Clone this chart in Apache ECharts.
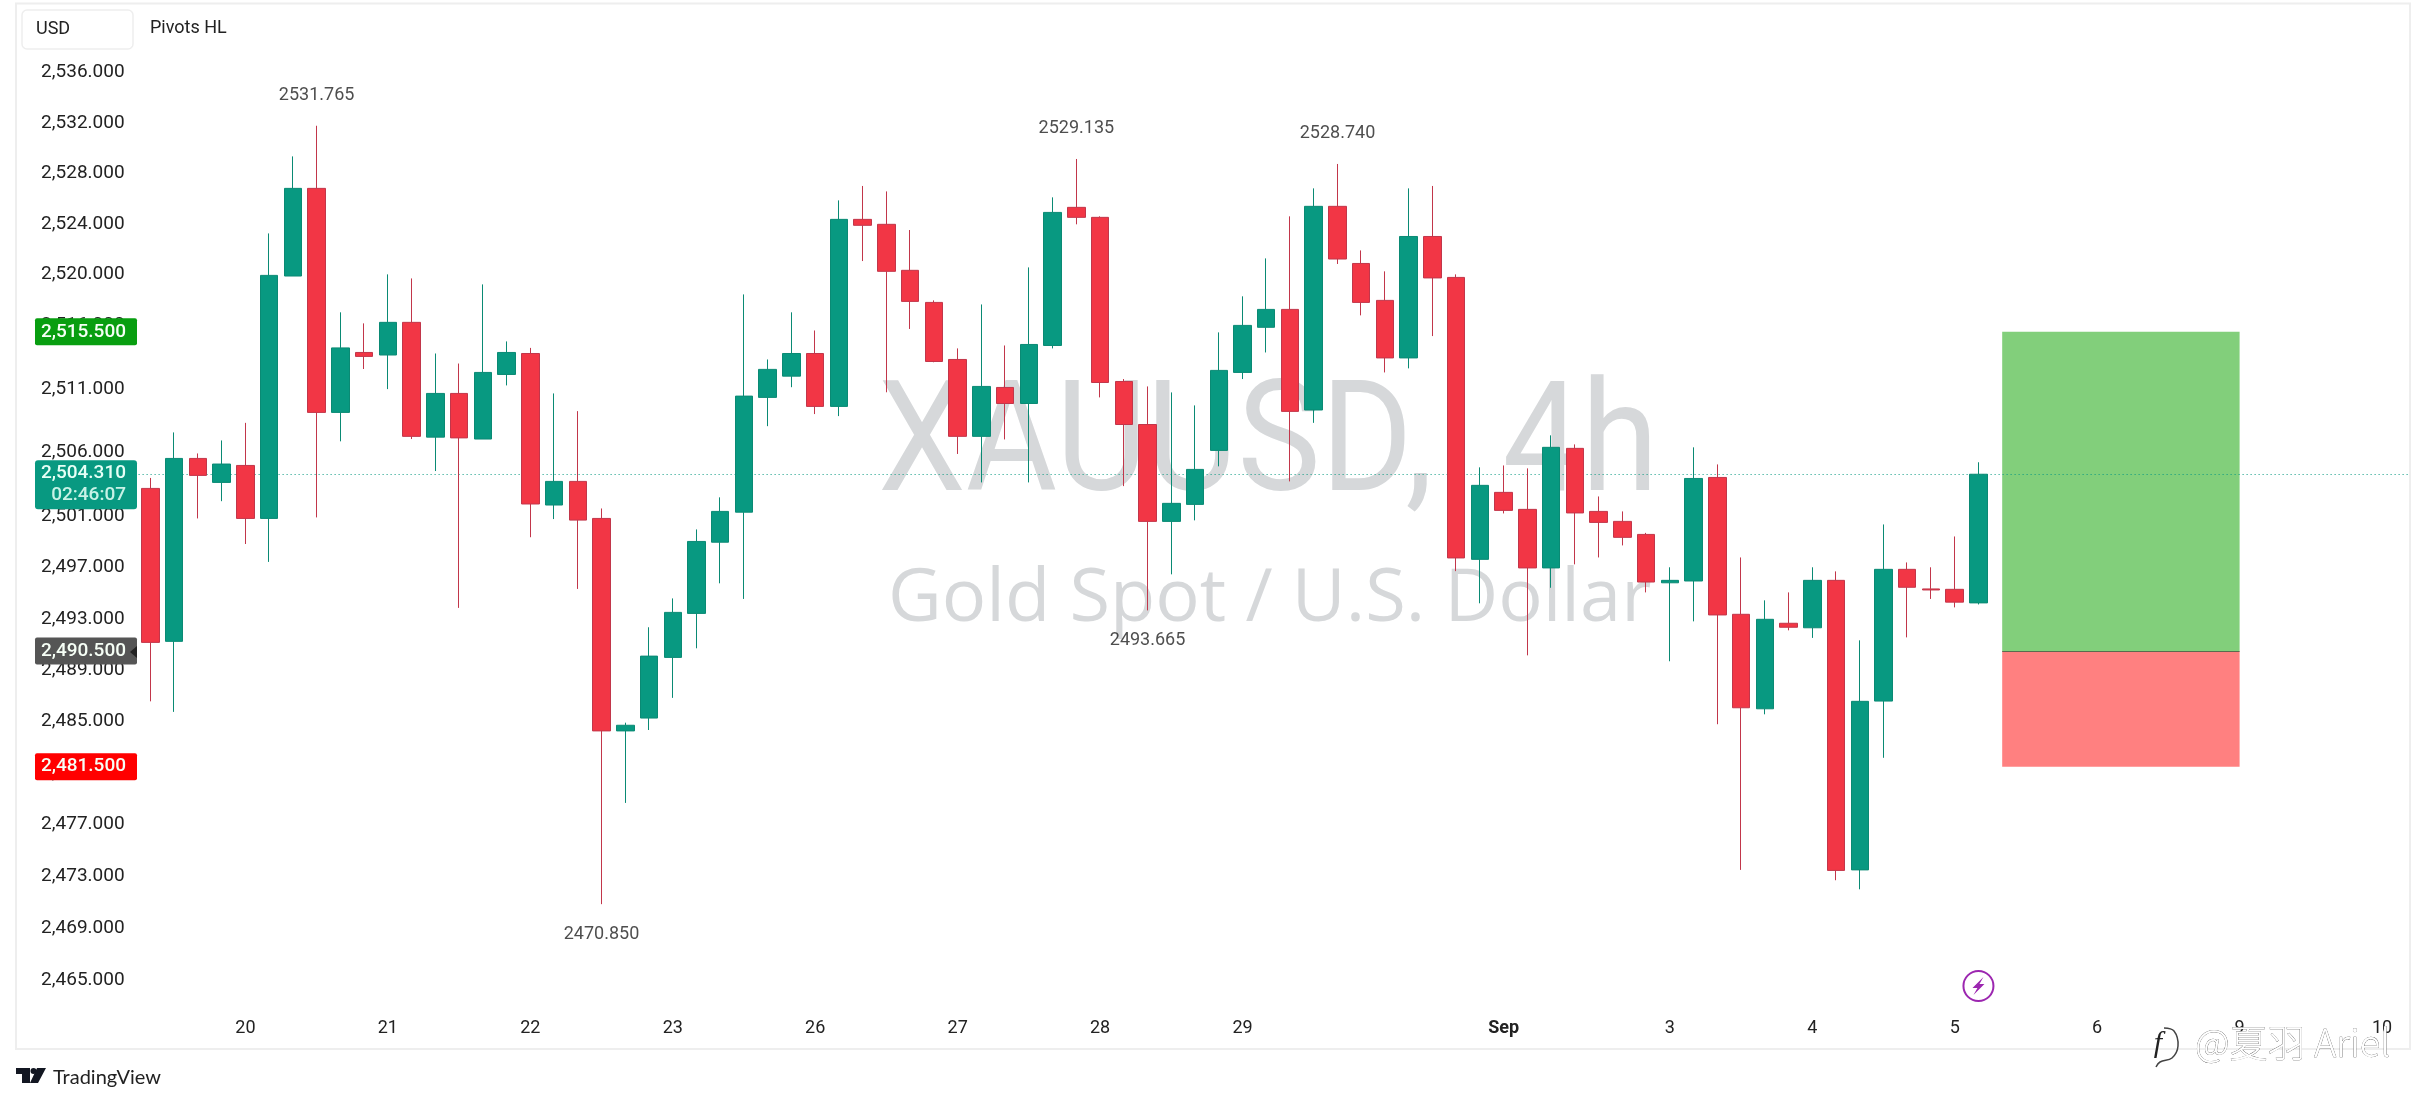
<!DOCTYPE html>
<html>
<head>
  <meta charset="utf-8">
  <title>XAUUSD 4h</title>
  <script src="https://cdn.jsdelivr.net/npm/echarts@6/dist/echarts.min.js"></script>
  <style>
    html, body { margin: 0; padding: 0; background: #fff; }
    #main { width: 2426px; height: 1104px; }
  </style>
</head>
<body>
<div id="main"></div>
<script type="text/javascript">
// candles
var opens = [2503.20,2491.25,2505.55,2503.67,2505.00,2500.85,2519.89,2526.81,2509.16,2513.87,2513.67,2516.24,2507.22,2510.65,2507.07,2512.14,2513.79,2501.90,2503.75,2500.85,2484.28,2485.28,2490.00,2493.43,2498.99,2501.34,2510.34,2512.01,2513.79,2509.63,2524.36,2523.97,2520.34,2517.81,2513.32,2507.28,2511.12,2509.86,2514.42,2525.31,2524.52,2511.59,2508.21,2500.62,2501.95,2506.18,2512.30,2515.85,2517.26,2509.35,2525.39,2520.88,2517.97,2513.44,2523.01,2519.78,2497.65,2502.89,2501.56,2496.98,2506.34,2501.40,2500.62,2499.60,2495.82,2495.96,2504.06,2493.36,2486.00,2492.66,2492.31,2496.01,2473.50,2486.60,2496.87,2495.34,2495.31,2494.25];
var closes = [2491.17,2505.55,2504.22,2505.11,2500.85,2519.94,2526.81,2509.16,2514.23,2513.56,2516.24,2507.28,2510.65,2507.16,2512.30,2513.87,2501.98,2503.75,2500.72,2484.28,2484.72,2490.10,2493.51,2499.05,2501.40,2510.44,2512.54,2513.79,2509.63,2524.36,2523.89,2520.26,2517.89,2513.16,2507.28,2511.20,2509.86,2514.50,2524.91,2524.52,2511.51,2508.21,2500.62,2502.03,2504.69,2512.46,2516.00,2517.26,2509.24,2525.39,2521.23,2517.81,2513.44,2523.01,2519.74,2497.76,2503.44,2501.48,2496.98,2506.42,2501.28,2500.54,2499.37,2495.88,2496.01,2503.98,2493.31,2486.08,2492.97,2492.35,2496.01,2473.46,2486.58,2496.87,2495.47,2495.26,2494.31,2504.31];
var lows = [2486.58,2485.76,2500.85,2502.20,2498.85,2497.45,2519.89,2500.93,2506.89,2512.57,2510.99,2507.07,2504.56,2493.86,2507.07,2511.28,2499.38,2500.80,2495.34,2470.85,2478.69,2484.35,2486.85,2490.71,2495.78,2494.56,2508.08,2511.14,2509.03,2508.87,2521.07,2510.74,2515.72,2513.10,2505.90,2503.67,2507.04,2503.67,2514.19,2523.97,2510.34,2503.38,2493.665,2496.48,2500.70,2504.93,2511.78,2513.87,2503.75,2508.34,2520.84,2516.79,2512.30,2512.62,2515.16,2496.73,2494.22,2501.24,2490.16,2495.43,2497.26,2497.80,2498.74,2495.07,2489.70,2492.81,2484.80,2473.50,2485.57,2492.11,2491.52,2472.70,2472.00,2482.19,2491.56,2494.56,2493.90,2494.13];
var highs = [2504.02,2507.59,2505.94,2506.96,2508.34,2523.25,2529.34,2531.765,2517.03,2516.16,2520.02,2519.70,2513.79,2513.00,2519.23,2514.74,2514.23,2510.65,2509.26,2501.63,2484.92,2492.35,2494.60,2499.99,2502.50,2518.44,2513.32,2517.03,2515.60,2525.86,2527.00,2526.57,2523.52,2517.97,2514.19,2517.65,2514.42,2520.57,2526.10,2529.135,2524.60,2511.78,2511.20,2510.73,2509.71,2515.45,2518.29,2521.28,2524.60,2526.81,2528.74,2521.91,2520.26,2526.81,2527.00,2520.02,2504.85,2505.00,2504.77,2507.36,2506.65,2502.57,2501.40,2499.72,2497.03,2506.42,2505.08,2497.80,2494.45,2495.07,2497.03,2496.71,2491.33,2500.38,2497.41,2497.03,2499.44,2505.25];

// axis labels
var yTicks = [2536,2532,2528,2524,2520,2516,2511,2506,2501,2497,2493,2489,2485,2481,2477,2473,2469,2465];
var dayIndex = [4,10,16,22,28,34,40,46,57,64,70,76,82,88,94];
var dayLabels = ['20','21','22','23','26','27','28','29','Sep','3','4','5','6','9','10'];
var barCount = 96;

// pivots HL
var pivotIndex = [7,39,50,19,42];
var pivotValues = [2531.765,2529.135,2528.740,2470.850,2493.665];
var pivotAbove = [true,true,true,false,false];

// position tool and last price
var lastPrice = 2504.31;
var lastCountdown = '02:46:07';
var targetPrice = 2515.5;
var entryPrice = 2490.5;
var stopPrice = 2481.5;
var boxFrom = 78;
var boxTo = 88;

var UP = '#089981', DOWN = '#F23645', INK = '#222';

var categories = [];
for (var i = 0; i < barCount; i++) {
    var k = dayIndex.indexOf(i);
    categories.push(k >= 0 ? dayLabels[k] : '');
}
var candleData = opens.map(function (o, i) {
    return [o, closes[i], lows[i], highs[i]];
});
var pivotData = pivotIndex.map(function (x, i) {
    return {
        value: [x, pivotValues[i]],
        label: { position: pivotAbove[i] ? 'top' : 'bottom' }
    };
});

function money(v) {
    return v.toLocaleString('en-US', { minimumFractionDigits: 3, maximumFractionDigits: 3 });
}

var myChart = echarts.init(document.getElementById('main'));
myChart.setOption({
    animation: false,
    backgroundColor: '#fff',
    grid: { left: 138.6, top: 4.1, width: 23.74 * barCount, height: 1045.4 },
    xAxis: {
        type: 'category',
        data: categories,
        boundaryGap: true,
        axisLine: { show: false },
        axisTick: { show: false },
        splitLine: { show: false },
        axisLabel: {
            inside: true,
            margin: 12,
            interval: 0,
            color: INK,
            fontFamily: 'Roboto',
            fontSize: 18,
            formatter: function (v) { return v === 'Sep' ? '{b|Sep}' : v; },
            rich: { b: { fontWeight: 'bold', fontFamily: 'Roboto', fontSize: 18, color: INK } }
        }
    },
    yAxis: {
        type: 'log',
        min: 2459.64,
        max: 2541.42,
        axisLine: { show: false },
        axisTick: { show: false },
        splitLine: { show: false },
        axisLabel: {
            customValues: yTicks,
            margin: 14,
            color: INK,
            fontFamily: 'Roboto',
            fontSize: 19,
            formatter: function (v) { return money(v); }
        }
    },
    series: [{
        type: 'candlestick',
        data: candleData,
        barWidth: 18,
        z: 2,
        itemStyle: { color: UP, borderColor: '#0A8A74', color0: DOWN, borderColor0: '#C2364A', borderWidth: 1 },
        markArea: {
            silent: true,
            z: 1,
            data: [
                [{ xAxis: boxFrom, yAxis: targetPrice, itemStyle: { color: '#82CF7B', opacity: 1 } }, { xAxis: boxTo, yAxis: entryPrice }],
                [{ xAxis: boxFrom, yAxis: entryPrice, itemStyle: { color: '#FF8080', opacity: 1 } }, { xAxis: boxTo, yAxis: stopPrice }]
            ]
        },
        markLine: {
            silent: true,
            z: 1,
            symbol: 'none',
            label: { show: false },
            data: [
                { yAxis: lastPrice, lineStyle: { color: UP, type: [1, 3], width: 1, opacity: 1 } },
                [
                    { xAxis: boxFrom, yAxis: entryPrice, lineStyle: { color: '#5B6B4E', type: 'solid', width: 1, opacity: 1 } },
                    { xAxis: boxTo, yAxis: entryPrice }
                ]
            ]
        }
    }, {
        type: 'scatter',
        data: pivotData,
        symbolSize: 1,
        z: 3,
        itemStyle: { color: 'rgba(0,0,0,0)' },
        label: {
            show: true,
            distance: 21,
            color: INK,
            fontFamily: 'Roboto',
            fontSize: 18,
            formatter: function (p) { return p.value[1].toFixed(3); }
        }
    }]
});

// overlays hung on the axes
function priceTag(list, price, h, color, text) {
    var y = myChart.convertToPixel({ yAxisIndex: 0 }, price);
    list.push({ type: 'rect', z: 20, shape: { x: 35, y: y - h / 2, width: 102, height: h, r: 2 }, style: { fill: color } });
    list.push({ type: 'text', z: 21, style: { text: text, x: 126, y: y, fill: '#f6fff6', font: '500 19px Roboto', textAlign: 'right', textVerticalAlign: 'middle' } });
    return y;
}

var overlays = [
    { type: 'text', z: -1, originX: 878, originY: 451, scaleY: 1.1, style: { text: 'XAUUSD,  4h', x: 878, y: 451, fill: '#D6D8DA', font: '140px Roboto', textAlign: 'left', textVerticalAlign: 'middle' } },
    { type: 'text', z: -1, style: { text: 'Gold Spot / U.S. Dollar', x: 888, y: 600, fill: '#D6D8DA', font: '74px "Open Sans"', textAlign: 'left', textVerticalAlign: 'middle' } },
    // right margin and panel border
    { type: 'rect', z: 15, shape: { x: 2411, y: 0, width: 15, height: 1104 }, style: { fill: '#fff' } },
    { type: 'rect', z: 16, shape: { x: 16, y: 3.5, width: 2394, height: 1045.5 }, style: { fill: 'none', stroke: '#EEEEEE', lineWidth: 2 } },
    // legend buttons
    { type: 'rect', z: 20, shape: { x: 22, y: 10, width: 111, height: 39, r: 5 }, style: { fill: '#fff', stroke: '#EEEEEE', lineWidth: 1.5 } },
    { type: 'text', z: 21, style: { text: 'USD', x: 36, y: 29, fill: '#222', font: '18px Roboto', textAlign: 'left', textVerticalAlign: 'middle' } },
    { type: 'text', z: 21, style: { text: 'Pivots HL', x: 150, y: 28, fill: '#222', font: '18px Roboto', textAlign: 'left', textVerticalAlign: 'middle' } },
    // TradingView logo
    { type: 'polygon', z: 21, shape: { points: [[16, 1068], [30, 1068], [30, 1083], [22, 1083], [22, 1074], [16, 1074]] }, style: { fill: '#131722' } },
    { type: 'circle', z: 21, shape: { cx: 33.5, cy: 1071, r: 3 }, style: { fill: '#131722' } },
    { type: 'polygon', z: 21, shape: { points: [[37, 1068], [46, 1068], [38, 1083], [30, 1083]] }, style: { fill: '#131722' } },
    { type: 'text', z: 21, style: { text: 'TradingView', x: 53, y: 1078, fill: '#222', font: '20px Lato', textAlign: 'left', textVerticalAlign: 'middle' } },
    // site watermark
    { type: 'polyline', z: 30, shape: { smooth: 0.4, points: [[2164, 1028], [2174, 1031], [2178, 1046], [2172, 1058], [2160, 1062], [2156, 1067]] }, style: { fill: 'none', stroke: '#444', lineWidth: 1.5 } },
    { type: 'text', z: 30, style: { text: 'f', x: 2158, y: 1044, fill: '#222', font: 'italic 30px "Liberation Serif"', textAlign: 'center', textVerticalAlign: 'middle' } },
    { type: 'text', z: 30, style: { text: '@夏羽 Ariel', x: 2195, y: 1043, fill: '#fff', stroke: '#444', lineWidth: 0.5, font: '300 38px "Noto Sans CJK SC"', textAlign: 'left', textVerticalAlign: 'middle' } }
];

priceTag(overlays, targetPrice, 27, '#089E10', money(targetPrice));
priceTag(overlays, stopPrice, 27, '#FF0000', money(stopPrice));
var entryY = priceTag(overlays, entryPrice, 27, '#555555', money(entryPrice));
overlays.push({ type: 'polygon', z: 22, shape: { points: [[130, entryY + 1], [137, entryY - 5], [137, entryY + 7]] }, style: { fill: '#222' } });

var lastY = myChart.convertToPixel({ yAxisIndex: 0 }, lastPrice);
overlays.push({ type: 'rect', z: 20, shape: { x: 35, y: lastY - 14, width: 102, height: 49, r: 3 }, style: { fill: UP } });
overlays.push({ type: 'text', z: 21, style: { text: money(lastPrice), x: 126, y: lastY - 1, fill: '#E6FFF6', font: '500 19px Roboto', textAlign: 'right', textVerticalAlign: 'middle' } });
overlays.push({ type: 'text', z: 21, style: { text: lastCountdown, x: 126, y: lastY + 21, fill: '#C8F2E6', font: '500 19px Roboto', textAlign: 'right', textVerticalAlign: 'middle' } });

// bolt icon sits under the last bar
var boltX = myChart.convertToPixel({ xAxisIndex: 0 }, opens.length - 1);
overlays.push({ type: 'circle', z: 21, shape: { cx: boltX, cy: 986, r: 15 }, style: { fill: '#fff', stroke: '#9C27B0', lineWidth: 2 } });
overlays.push({ type: 'polygon', z: 22, shape: { points: [[boltX + 5, 977], [boltX - 6, 988], [boltX - 1, 988], [boltX - 5, 995], [boltX + 6, 984], [boltX + 1, 984]] }, style: { fill: '#9C27B0' } });

myChart.setOption({ graphic: overlays });
</script>
</body>
</html>
